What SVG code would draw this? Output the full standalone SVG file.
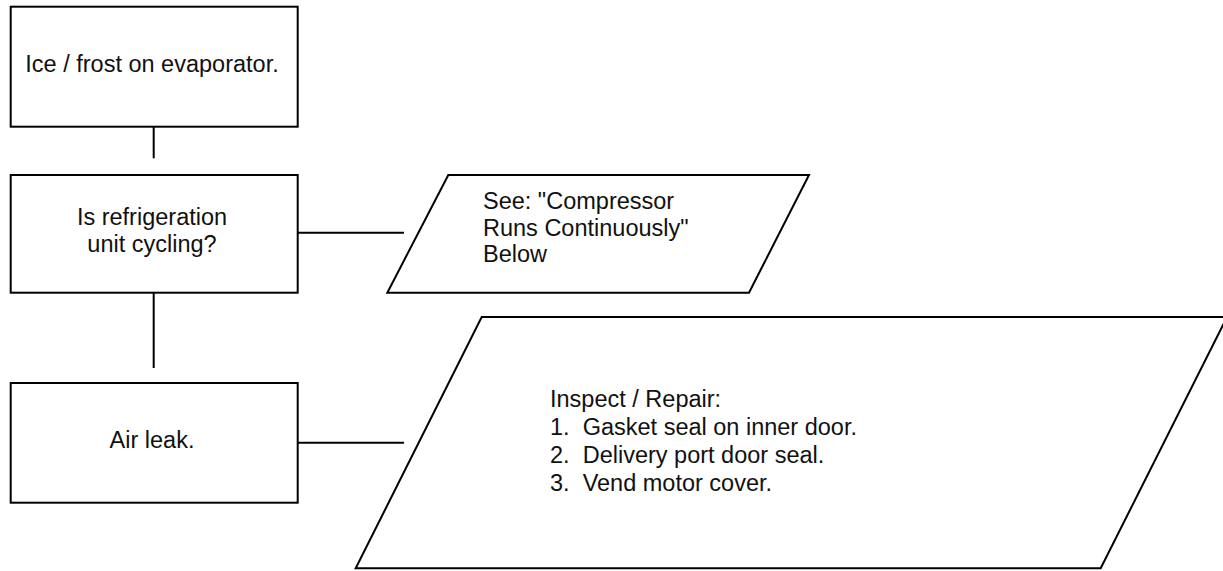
<svg xmlns="http://www.w3.org/2000/svg" width="1223" height="571" viewBox="0 0 1223 571">
<style>
.shape{fill:#fff;stroke:#000;stroke-width:2}
.conn{stroke:#000;stroke-width:2;fill:none}
text{font-family:"Liberation Sans",Arial,sans-serif;font-size:23.5px;fill:#111}
.c{text-anchor:middle}
</style>
<rect width="1223" height="571" fill="#fff"/>
<g id="connectors">
<line class="conn" x1="153.7" y1="127" x2="153.7" y2="158.3"/>
<line class="conn" x1="153.7" y1="293" x2="153.7" y2="368"/>
<line class="conn" x1="298" y1="232.7" x2="404" y2="232.7"/>
<line class="conn" x1="298" y1="442.7" x2="404" y2="442.7"/>
</g>
<g id="n1">
<rect class="shape" x="10.7" y="6.7" width="287" height="120"/>
<text class="c" x="152" y="72">Ice / frost on evaporator.</text>
</g>
<g id="n2">
<rect class="shape" x="10.7" y="175" width="287" height="117.7"/>
<text class="c" x="152" y="225">Is refrigeration</text>
<text class="c" x="152" y="252">unit cycling?</text>
</g>
<g id="n3">
<polygon class="shape" points="448.3,175 809,175 749,292.7 387.3,292.7"/>
<text x="483" y="209">See: "Compressor</text>
<text x="483" y="235.5">Runs Continuously"</text>
<text x="483" y="262">Below</text>
</g>
<g id="n4">
<rect class="shape" x="10.7" y="383" width="287" height="119.7"/>
<text class="c" x="152" y="448">Air leak.</text>
</g>
<g id="n5">
<polygon class="shape" points="481.7,317 1227,317 1100.7,568.3 355.7,568.3"/>
<text x="550" y="407" xml:space="preserve">Inspect / Repair:</text>
<text x="550" y="435" xml:space="preserve">1.  Gasket seal on inner door.</text>
<text x="550" y="463" xml:space="preserve">2.  Delivery port door seal.</text>
<text x="550" y="491" xml:space="preserve">3.  Vend motor cover.</text>
</g>
</svg>
